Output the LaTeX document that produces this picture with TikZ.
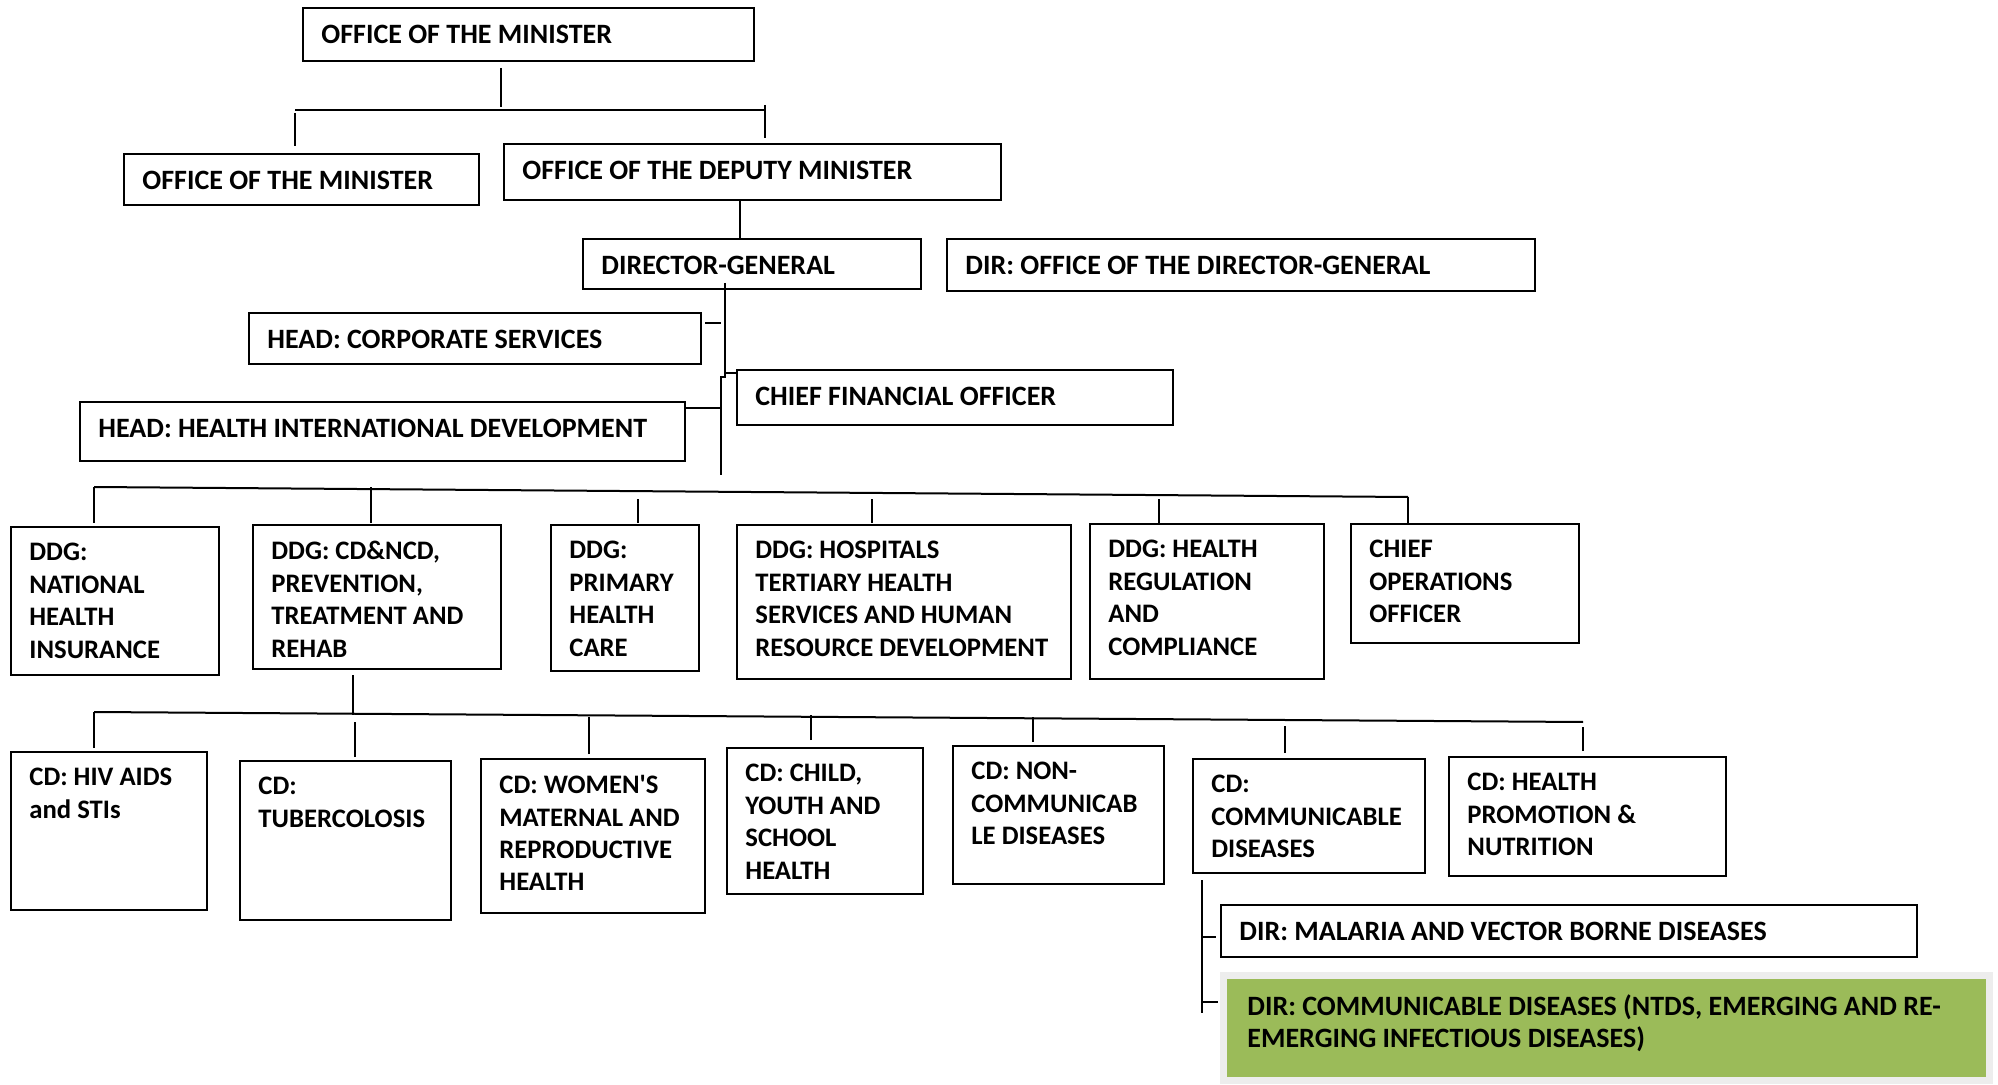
\documentclass[tikz,border=0pt]{standalone}
\usepackage{fontspec}
\setmainfont{Carlito}
\definecolor{ntdgreen}{HTML}{9BBB59}
\definecolor{framegrey}{HTML}{EDEDED}
\begin{document}
\begin{tikzpicture}[
    x=0.5pt, y=-0.5pt,
    unit/.style={draw, line width=1pt, anchor=north west, inner sep=0pt, outer sep=0pt},
    boxsize/.style 2 args={minimum width=#1*0.5pt, minimum height=#2*0.5pt},
    unitname/.style={anchor=north west, align=left, inner xsep=9pt, inner ysep=8.3pt,
        font=\fontsize{14pt}{16.2pt}\selectfont\bfseries},
    unitlist/.style={unitname, inner ysep=8pt, font=\fontsize{13.35pt}{16.2pt}\selectfont\bfseries},
    bus/.style={line width=1pt},
    link/.style={line width=0.75pt},
]
\useasboundingbox (0,0) rectangle (1998,1085);

% Minister and deputy
\node[unit, boxsize={451}{53}, label={[unitname]north west:{OFFICE OF THE MINISTER}}] (min) at (303,8) {};
\node[unit, boxsize={355}{51}, label={[unitname]north west:{OFFICE OF THE MINISTER}}] (min2) at (124,154) {};
\node[unit, boxsize={497}{56}, label={[unitname]north west:{OFFICE OF THE DEPUTY MINISTER}}] (dep) at (504,144) {};

% Director-general and offices around it
\node[unit, boxsize={338}{50}, label={[unitname]north west:{DIRECTOR-GENERAL}}] (dg) at (583,239) {};
\node[unit, boxsize={588}{52}, label={[unitname]north west:{DIR: OFFICE OF THE DIRECTOR-GENERAL}}] (odg) at (947,239) {};
\node[unit, boxsize={452}{51}, label={[unitname]north west:{HEAD: CORPORATE SERVICES}}] (corp) at (249,313) {};
\node[unit, boxsize={436}{55}, label={[unitname]north west:{CHIEF FINANCIAL OFFICER}}] (cfo) at (737,370) {};
\node[unit, boxsize={605}{59}, label={[unitname]north west:{HEAD: HEALTH INTERNATIONAL DEVELOPMENT}}] (hid) at (80,402) {};

% Deputy directors-general
\node[unit, boxsize={208}{148}, label={[unitlist]north west:{DDG:\\NATIONAL\\HEALTH\\INSURANCE}}] (nhi) at (11,527) {};
\node[unit, boxsize={248}{144}, label={[unitlist]north west:{DDG: CD\&NCD,\\PREVENTION,\\TREATMENT AND\\REHAB}}] (cdncd) at (253,525) {};
\node[unit, boxsize={148}{146}, label={[unitlist]north west:{DDG:\\PRIMARY\\HEALTH\\CARE}}] (phc) at (551,525) {};
\node[unit, boxsize={334}{154}, label={[unitlist]north west:{DDG: HOSPITALS\\TERTIARY HEALTH\\SERVICES AND HUMAN\\RESOURCE DEVELOPMENT}}] (hosp) at (737,525) {};
\node[unit, boxsize={234}{155}, label={[unitlist]north west:{DDG: HEALTH\\REGULATION\\AND\\COMPLIANCE}}] (hrc) at (1090,524) {};
\node[unit, boxsize={228}{119}, label={[unitlist]north west:{CHIEF\\OPERATIONS\\OFFICER}}] (coo) at (1351,524) {};

% Chief directorates
\node[unit, boxsize={196}{158}, label={[unitlist]north west:{CD: HIV AIDS\\and STIs}}] (hiv) at (11,752) {};
\node[unit, boxsize={211}{159}, label={[unitlist]north west:{CD:\\TUBERCOLOSIS}}] (tb) at (240,761) {};
\node[unit, boxsize={224}{154}, label={[unitlist]north west:{CD: WOMEN\textquotesingle S\\MATERNAL AND\\REPRODUCTIVE\\HEALTH}}] (wom) at (481,759) {};
\node[unit, boxsize={196}{146}, label={[unitlist]north west:{CD: CHILD,\\YOUTH AND\\SCHOOL\\HEALTH}}] (child) at (727,748) {};
\node[unit, boxsize={211}{138}, label={[unitlist]north west:{CD: NON-\\COMMUNICAB\\LE DISEASES}}] (ncd) at (953,746) {};
\node[unit, boxsize={232}{114}, label={[unitlist]north west:{CD:\\COMMUNICABLE\\DISEASES}}] (cdc) at (1193,759) {};
\node[unit, boxsize={277}{119}, label={[unitlist]north west:{CD: HEALTH\\PROMOTION \&\\NUTRITION}}] (hpn) at (1449,757) {};

% Directorates under communicable diseases
\node[unit, boxsize={696}{52}, label={[unitname]north west:{DIR: MALARIA AND VECTOR BORNE DISEASES}}] (mal) at (1221,905) {};
\node[unit, boxsize={766}{105}, draw=framegrey, line width=3.5pt, fill=ntdgreen,
    label={[unitname, inner ysep=7.6pt, xshift=3pt, yshift=-2pt]north west:{DIR: COMMUNICABLE DISEASES (NTDS, EMERGING AND RE-\\EMERGING INFECTIOUS DISEASES)}}] (ntd) at (1223,975) {};

% Bus lines
\coordinate (top-bus-l) at (295,110);
\coordinate (top-bus-r) at (765,110);
\coordinate (ddg-bus-l) at (94,487);
\coordinate (ddg-bus-r) at (1408,497);
\coordinate (cd-bus-l) at (94,712);
\coordinate (cd-bus-r) at (1583,722);
\draw[bus] (top-bus-l) -- (top-bus-r);
\draw[bus] (ddg-bus-l) -- (ddg-bus-r);
\draw[bus] (cd-bus-l) -- (cd-bus-r);

% Top connectors
\draw[link, shorten <=3.5pt, shorten >=1.5pt] (min.south -| 501,0) -- (top-bus-l -| 501,0);
\draw[link, shorten <=1.5pt, shorten >=4pt] (top-bus-l) -- (min2.north -| top-bus-l);
\draw[link, shorten <=-2.5pt, shorten >=3pt] (top-bus-r) -- (dep.north -| top-bus-r);
\draw[link] (dep.south -| 740,0) -- (dg.north -| 740,0);

% Director-general spine
\coordinate (spine-j) at (725,373);
\coordinate (spine-end) at (721,475);
\draw[link, shorten <=-3pt] (dg.south -| spine-j) -- (spine-j) -- (cfo.west |- spine-j);
\draw[link] (spine-j) -- ++(0,4) -| (spine-end);
\draw[link, shorten <=2pt] (corp.east |- 0,323) -- (spine-end |- 0,323);
\draw[link] (hid.east |- 0,408) -- (spine-end |- 0,408);

% Drops to the DDG row
\foreach \n/\x/\gap/\len in {nhi/94/2/36, cdncd/371/1/36, phc/638/1/24, hosp/872/1/24, hrc/1159/0/25, coo/1408/0/27}
    \draw[link] ([yshift=\gap pt]\n.north -| \x,0) -- ++(0,-\len);

% Drops to the CD row
\draw[link] ([yshift=-3pt]cdncd.south -| 353,0) -- ++(0,40);
\foreach \n/\x/\gap/\len in {hiv/94/2/36, tb/355/2/35, wom/589/2.5/37, child/811/4/25, ncd/1033/2/25, cdc/1285/3/27, hpn/1583/3/24}
    \draw[link] ([yshift=\gap pt]\n.north -| \x,0) -- ++(0,-\len);

% Directorates
\coordinate (dir-spine) at (1202,1013);
\draw[link] ([yshift=-3.5pt]cdc.south -| dir-spine) -- (dir-spine);
\draw[link, shorten >=2.5pt] (dir-spine |- 0,937) -- (mal.west |- 0,937);
\draw[link, shorten >=1pt] (dir-spine |- 0,1002) -- ([xshift=-1.75pt]ntd.west |- 0,1002);

\end{tikzpicture}
\end{document}
